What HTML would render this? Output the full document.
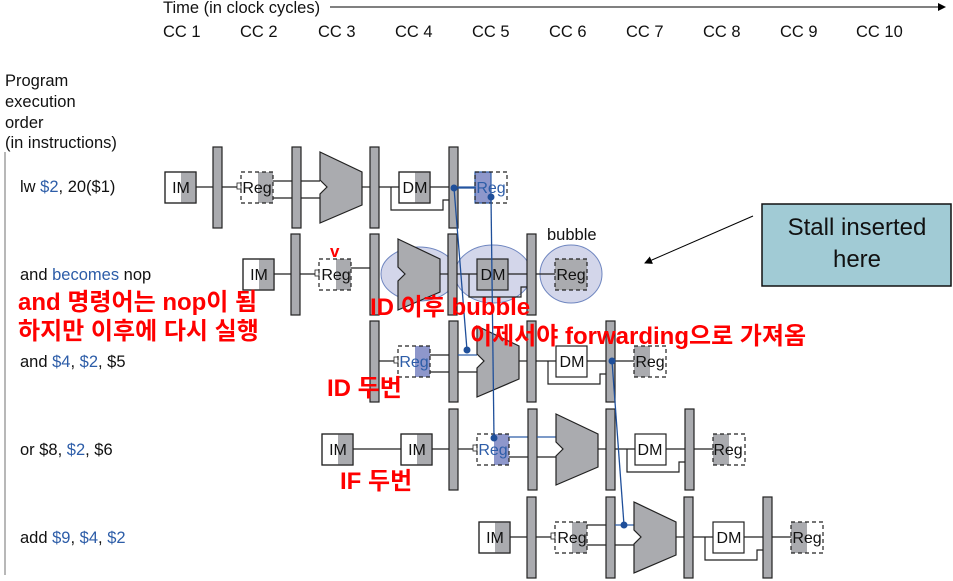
<!DOCTYPE html>
<html><head><meta charset="utf-8"><style>
html,body{margin:0;padding:0;background:#fff;}
svg{display:block;}
text{font-family:"Liberation Sans","Noto Sans CJK KR",sans-serif;}
.r{fill:#ff0000;font-weight:bold;font-size:24px;}
.c{text-anchor:middle;font-size:16px;fill:#111;}
</style></head><body>
<svg width="953" height="581" viewBox="0 0 953 581" xmlns="http://www.w3.org/2000/svg">
<defs>
<marker id="ah" markerWidth="8" markerHeight="8" refX="7" refY="4" orient="auto"><path d="M0,0 L8,4 L0,8z" fill="#000"/></marker>
</defs>
<g font-size="16.5" fill="#111">
<text x="163" y="13">Time (in clock cycles)</text>
<text x="163" y="37">CC 1</text><text x="240" y="37">CC 2</text><text x="318" y="37">CC 3</text><text x="395" y="37">CC 4</text><text x="472" y="37">CC 5</text><text x="549" y="37">CC 6</text><text x="626" y="37">CC 7</text><text x="703" y="37">CC 8</text><text x="780" y="37">CC 9</text><text x="856" y="37">CC 10</text>
<text x="5" y="86">Program</text><text x="5" y="107">execution</text><text x="5" y="128">order</text><text x="5" y="148">(in instructions)</text>
<text x="20" y="192">lw <tspan fill="#2d5da8">$2</tspan>, 20($1)</text>
<text x="20" y="280">and <tspan fill="#2d5da8">becomes</tspan> nop</text>
<text x="20" y="367">and <tspan fill="#2d5da8">$4</tspan>, <tspan fill="#2d5da8">$2</tspan>, $5</text>
<text x="20" y="455">or $8, <tspan fill="#2d5da8">$2</tspan>, $6</text>
<text x="20" y="543">add <tspan fill="#2d5da8">$9</tspan>, <tspan fill="#2d5da8">$4</tspan>, <tspan fill="#2d5da8">$2</tspan></text>
<text x="547" y="240">bubble</text>
</g>
<line x1="330" y1="7" x2="945" y2="7" stroke="#000" stroke-width="1" marker-end="url(#ah)"/>
<line x1="5" y1="152" x2="5" y2="575" stroke="#888" stroke-width="1.2"/>

<!-- Row 1 -->
<g transform="translate(165,187)" stroke="#222" stroke-width="1.2">
<rect x="0" y="-15" width="31" height="31" fill="#fff"/><rect x="16" y="-15" width="15" height="31" fill="#aaabaf" stroke="none"/><rect x="0" y="-15" width="31" height="31" fill="none"/>
<line x1="31" y1="0" x2="48" y2="0"/>
<rect x="48" y="-40" width="9" height="81" fill="#aaabaf"/>
<line x1="57" y1="0" x2="76" y2="0"/><rect x="72" y="-4" width="4" height="6" fill="#fff" stroke-width="0.8"/>
<rect x="93" y="-15" width="15" height="31" fill="#aaabaf" stroke="none"/><rect x="76" y="-15" width="32" height="31" fill="none" stroke-dasharray="4,3"/>
<line x1="108" y1="-6" x2="127" y2="-6"/><line x1="108" y1="11" x2="127" y2="11"/>
<rect x="127" y="-40" width="9" height="81" fill="#aaabaf"/>
<line x1="136" y1="-6" x2="155" y2="-6"/><line x1="136" y1="11" x2="155" y2="11"/>
<path d="M155,-35 L197,-15 L197,18 L155,36 L155,7 L162,0 L155,-7Z" fill="#aaabaf"/>
<line x1="197" y1="0" x2="205" y2="0"/>
<rect x="205" y="-40" width="9" height="81" fill="#aaabaf"/>
<line x1="214" y1="0" x2="234" y2="0"/>
<rect x="234" y="-15" width="31" height="31" fill="#fff"/><rect x="250" y="-15" width="15" height="31" fill="#aaabaf" stroke="none"/><rect x="234" y="-15" width="31" height="31" fill="none"/>
<path d="M226,0 V23 H278 V13 H284" fill="none"/>
<line x1="265" y1="0" x2="284" y2="0"/>
<rect x="284" y="-40" width="9" height="81" fill="#aaabaf"/>
<line x1="293" y1="0" x2="310" y2="0" stroke="#2d5da8"/>
<rect x="310" y="-15" width="16" height="31" fill="#8e97cb" stroke="#2d5da8"/><rect x="310" y="-15" width="32" height="31" fill="none" stroke-dasharray="4,3"/>
</g>
<text class="c" x="181" y="193">IM</text><text class="c" x="257" y="193">Reg</text><text class="c" x="415" y="193">DM</text><text class="c" x="491" y="193" style="fill:#2d5da8">Reg</text>

<!-- Row 2 bubble -->
<g transform="translate(243,274)" stroke="#222" stroke-width="1.2">
<rect x="0" y="-15" width="31" height="31" fill="#fff"/><rect x="16" y="-15" width="15" height="31" fill="#aaabaf" stroke="none"/><rect x="0" y="-15" width="31" height="31" fill="none"/>
<line x1="31" y1="0" x2="48" y2="0"/>
<rect x="48" y="-40" width="9" height="81" fill="#aaabaf"/>
<line x1="57" y1="0" x2="76" y2="0"/><rect x="72" y="-4" width="4" height="6" fill="#fff" stroke-width="0.8"/>
<rect x="93" y="-15" width="15" height="31" fill="#aaabaf" stroke="none"/><rect x="76" y="-15" width="32" height="31" fill="none" stroke-dasharray="4,3"/>
<line x1="108" y1="-6" x2="127" y2="-6"/>
<rect x="127" y="-40" width="9" height="81" fill="#aaabaf"/>
<ellipse cx="176" cy="0" rx="38" ry="27" fill="#d3d6ea" stroke="#6f86c0" stroke-width="1"/>
<ellipse cx="250" cy="0" rx="38" ry="29" fill="#d3d6ea" stroke="#6f86c0" stroke-width="1"/>
<ellipse cx="328" cy="0" rx="31" ry="29" fill="#d3d6ea" stroke="#6f86c0" stroke-width="1"/>
<path d="M155,-35 L197,-15 L197,18 L155,36 L155,7 L162,0 L155,-7Z" fill="#aaabaf"/>
<line x1="197" y1="0" x2="205" y2="0"/>
<rect x="205" y="-40" width="9" height="81" fill="#aaabaf"/>
<line x1="214" y1="0" x2="234" y2="0"/>
<rect x="234" y="-15" width="31" height="31" fill="#aaabaf"/>
<path d="M226,0 V23 H278 V13 H284" fill="none"/>
<line x1="265" y1="0" x2="284" y2="0"/>
<rect x="284" y="-40" width="9" height="81" fill="#aaabaf"/>
<line x1="293" y1="0" x2="312" y2="0"/>
<rect x="312" y="-15" width="32" height="31" fill="#aaabaf" stroke="none"/><rect x="312" y="-15" width="32" height="31" fill="none" stroke-dasharray="4,3"/>
</g>
<text class="c" x="259" y="280">IM</text><text class="c" x="336" y="280">Reg</text><text class="c" x="493" y="280">DM</text><text class="c" x="571" y="280">Reg</text>
<text x="330" y="257" fill="#f00" font-weight="bold" font-size="17" font-family="Liberation Sans">v</text>

<!-- Row 3 -->
<g transform="translate(322,361)" stroke="#222" stroke-width="1.2">
<rect x="48" y="-40" width="9" height="81" fill="#aaabaf"/>
<line x1="57" y1="0" x2="76" y2="0"/><rect x="72" y="-4" width="4" height="6" fill="#fff" stroke-width="0.8"/>
<rect x="93" y="-15" width="15" height="31" fill="#8e97cb" stroke="none"/><rect x="76" y="-15" width="32" height="31" fill="none" stroke-dasharray="4,3"/>
<line x1="108" y1="-6" x2="127" y2="-6"/><line x1="108" y1="11" x2="127" y2="11"/>
<rect x="127" y="-40" width="9" height="81" fill="#aaabaf"/>
<line x1="136" y1="-6" x2="155" y2="-6" stroke="#2d5da8"/><line x1="136" y1="11" x2="155" y2="11"/>
<path d="M155,-35 L197,-15 L197,18 L155,36 L155,7 L162,0 L155,-7Z" fill="#aaabaf"/>
<line x1="197" y1="0" x2="205" y2="0"/>
<rect x="205" y="-40" width="9" height="81" fill="#aaabaf"/>
<line x1="214" y1="0" x2="234" y2="0"/>
<rect x="234" y="-15" width="31" height="31" fill="#fff"/>
<path d="M226,0 V23 H278 V13 H284" fill="none"/>
<line x1="265" y1="0" x2="284" y2="0"/>
<rect x="284" y="-40" width="9" height="81" fill="#aaabaf"/>
<line x1="293" y1="0" x2="312" y2="0"/>
<rect x="312" y="-15" width="16" height="31" fill="#aaabaf" stroke="none"/><rect x="312" y="-15" width="32" height="31" fill="none" stroke-dasharray="4,3"/>
</g>
<text class="c" x="414" y="367" style="fill:#2d5da8">Reg</text><text class="c" x="572" y="367">DM</text><text class="c" x="650" y="367">Reg</text>

<!-- Row 4 -->
<g transform="translate(401,449)" stroke="#222" stroke-width="1.2">
<rect x="-79" y="-15" width="31" height="31" fill="#fff"/><rect x="-63" y="-15" width="15" height="31" fill="#aaabaf" stroke="none"/><rect x="-79" y="-15" width="31" height="31" fill="none"/>
<line x1="-48" y1="0" x2="0" y2="0"/>
<rect x="0" y="-15" width="31" height="31" fill="#fff"/><rect x="16" y="-15" width="15" height="31" fill="#aaabaf" stroke="none"/><rect x="0" y="-15" width="31" height="31" fill="none"/>
<line x1="31" y1="0" x2="48" y2="0"/>
<rect x="48" y="-40" width="9" height="81" fill="#aaabaf"/>
<line x1="57" y1="0" x2="76" y2="0"/><rect x="72" y="-4" width="4" height="6" fill="#fff" stroke-width="0.8"/>
<rect x="93" y="-15" width="15" height="31" fill="#8e97cb" stroke="none"/><rect x="76" y="-15" width="32" height="31" fill="none" stroke-dasharray="4,3"/>
<line x1="108" y1="-12" x2="127" y2="-12" stroke="#2d5da8"/><line x1="108" y1="8" x2="127" y2="8"/>
<rect x="127" y="-40" width="9" height="81" fill="#aaabaf"/>
<line x1="136" y1="-12" x2="155" y2="-12" stroke="#2d5da8"/><line x1="136" y1="8" x2="155" y2="8"/>
<path d="M155,-35 L197,-15 L197,18 L155,36 L155,7 L162,0 L155,-7Z" fill="#aaabaf"/>
<line x1="197" y1="0" x2="205" y2="0"/>
<rect x="205" y="-40" width="9" height="81" fill="#aaabaf"/>
<line x1="214" y1="0" x2="234" y2="0"/>
<rect x="234" y="-15" width="31" height="31" fill="#fff"/>
<path d="M226,0 V23 H278 V13 H284" fill="none"/>
<line x1="265" y1="0" x2="284" y2="0"/>
<rect x="284" y="-40" width="9" height="81" fill="#aaabaf"/>
<line x1="293" y1="0" x2="312" y2="0"/>
<rect x="312" y="-15" width="16" height="31" fill="#aaabaf" stroke="none"/><rect x="312" y="-15" width="32" height="31" fill="none" stroke-dasharray="4,3"/>
</g>
<text class="c" x="338" y="455">IM</text><text class="c" x="417" y="455">IM</text><text class="c" x="493" y="455" style="fill:#2d5da8">Reg</text><text class="c" x="650" y="455">DM</text><text class="c" x="728" y="455">Reg</text>

<!-- Row 5 -->
<g transform="translate(479,537)" stroke="#222" stroke-width="1.2">
<rect x="0" y="-15" width="31" height="31" fill="#fff"/><rect x="16" y="-15" width="15" height="31" fill="#aaabaf" stroke="none"/><rect x="0" y="-15" width="31" height="31" fill="none"/>
<line x1="31" y1="0" x2="48" y2="0"/>
<rect x="48" y="-40" width="9" height="81" fill="#aaabaf"/>
<line x1="57" y1="0" x2="76" y2="0"/><rect x="72" y="-4" width="4" height="6" fill="#fff" stroke-width="0.8"/>
<rect x="93" y="-15" width="15" height="31" fill="#aaabaf" stroke="none"/><rect x="76" y="-15" width="32" height="31" fill="none" stroke-dasharray="4,3"/>
<line x1="108" y1="-12" x2="127" y2="-12"/><line x1="108" y1="8" x2="127" y2="8"/>
<rect x="127" y="-40" width="9" height="81" fill="#aaabaf"/>
<line x1="136" y1="-12" x2="155" y2="-12" stroke="#2d5da8"/><line x1="136" y1="8" x2="155" y2="8"/>
<path d="M155,-35 L197,-15 L197,18 L155,36 L155,7 L162,0 L155,-7Z" fill="#aaabaf"/>
<line x1="197" y1="0" x2="205" y2="0"/>
<rect x="205" y="-40" width="9" height="81" fill="#aaabaf"/>
<line x1="214" y1="0" x2="234" y2="0"/>
<rect x="234" y="-15" width="31" height="31" fill="#fff"/>
<path d="M226,0 V23 H278 V13 H284" fill="none"/>
<line x1="265" y1="0" x2="284" y2="0"/>
<rect x="284" y="-40" width="9" height="81" fill="#aaabaf"/>
<line x1="293" y1="0" x2="312" y2="0"/>
<rect x="312" y="-15" width="16" height="31" fill="#aaabaf" stroke="none"/><rect x="312" y="-15" width="32" height="31" fill="none" stroke-dasharray="4,3"/>
</g>
<text class="c" x="495" y="543">IM</text><text class="c" x="572" y="543">Reg</text><text class="c" x="729" y="543">DM</text><text class="c" x="807" y="543">Reg</text>

<!-- forwarding -->
<g stroke="#1f4f9a" stroke-width="1.3" fill="#1f4f9a">
<line x1="454" y1="188" x2="476" y2="188"/>
<line x1="454" y1="188" x2="467" y2="350"/>
<line x1="491" y1="197" x2="494" y2="438"/>
<line x1="612" y1="361" x2="624" y2="525"/>
<circle cx="454" cy="188" r="3.5" stroke="none"/>
<circle cx="491" cy="197" r="3.5" stroke="none"/>
<circle cx="467" cy="350" r="3.5" stroke="none"/>
<circle cx="494" cy="438" r="3.5" stroke="none"/>
<circle cx="612" cy="361" r="3.5" stroke="none"/>
<circle cx="624" cy="525" r="3.5" stroke="none"/>
</g>

<!-- stall box -->
<rect x="762" y="204" width="189" height="82" fill="#a1cbd5" stroke="#111" stroke-width="1.5"/>
<text x="857" y="235" font-size="24" text-anchor="middle" fill="#111">Stall inserted</text>
<text x="857" y="267" font-size="24" text-anchor="middle" fill="#111">here</text>
<line x1="753" y1="216" x2="645" y2="263" stroke="#000" stroke-width="1" marker-end="url(#ah)"/>

<!-- red annotations -->
<text class="r" x="18" y="310">and 명령어는 nop이 됨</text>
<text class="r" x="18" y="339">하지만 이후에 다시 실행</text>
<text class="r" x="370" y="315">ID 이후 bubble</text>
<text class="r" x="470" y="344">이제서야 forwarding으로 가져옴</text>
<text class="r" x="327" y="396">ID 두번</text>
<text class="r" x="340" y="489">IF 두번</text>
</svg>
</body></html>
